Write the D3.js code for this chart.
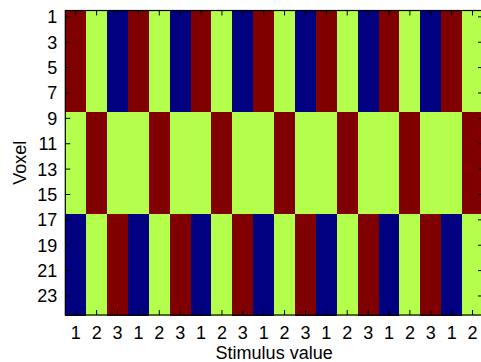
<!DOCTYPE html>
<html>
<head>
<meta charset="utf-8">
<script src="https://cdn.jsdelivr.net/npm/d3@7"></script>
<style>
  html, body { margin: 0; padding: 0; background: #fff; }
  svg { display: block; }
  text { font-family: "Liberation Sans", Arial, Helvetica, sans-serif; fill: #000; }
</style>
</head>
<body>
<svg id="chart" width="481" height="362"></svg>
<script>
// Stimulus presented on each trial (columns)
const stimulus = [1, 2, 3, 1, 2, 3, 1, 2, 3, 1, 2, 3, 1, 2, 3, 1, 2, 3, 1, 2];
// Voxel ids (rows)
const voxels = d3.range(1, 25);
// Which tuning profile each voxel follows
const voxelGroup = [0, 0, 0, 0, 0, 0, 0, 0,
                    1, 1, 1, 1, 1, 1, 1, 1,
                    2, 2, 2, 2, 2, 2, 2, 2];
// Normalised response of each tuning profile to stimulus 1, 2, 3
const tuning = [
  [1.00, 0.55, 0.00],
  [0.55, 1.00, 0.55],
  [0.00, 0.55, 1.00]
];
const yTickVoxels = [1, 3, 5, 7, 9, 11, 13, 15, 17, 19, 21, 23];

const margin = { left: 65.3, top: 10.5, right: 483, bottom: 315 };

const svg = d3.select("#chart");

const x = d3.scaleBand()
  .domain(d3.range(stimulus.length))
  .range([margin.left, margin.right])
  .paddingInner(0).paddingOuter(0);

const y = d3.scaleBand()
  .domain(voxels)
  .range([margin.top, margin.bottom])
  .paddingInner(0).paddingOuter(0);

// jet colormap
function jet(t) {
  const c = v => Math.max(0, Math.min(1, v));
  const r = c(1.5 - Math.abs(4 * t - 3));
  const g = c(1.5 - Math.abs(4 * t - 2));
  const b = c(1.5 - Math.abs(4 * t - 1));
  return d3.rgb(r * 255, g * 255, b * 255).formatHex();
}
const color = d3.scaleSequential(jet).domain([0, 1]);

const cells = [];
voxels.forEach((v, i) => {
  stimulus.forEach((s, j) => {
    cells.push({ col: j, voxel: v, value: tuning[voxelGroup[i]][s - 1] });
  });
});

svg.append("g")
  .selectAll("rect")
  .data(cells)
  .join("rect")
  .attr("x", d => x(d.col))
  .attr("y", d => y(d.voxel))
  .attr("width", x.bandwidth() + 0.5)
  .attr("height", y.bandwidth() + 0.5)
  .attr("fill", d => color(d.value))
  .attr("shape-rendering", "crispEdges");

const tickLen = 5;

// Bottom axis (ticks inside)
const bottomAxis = d3.axisBottom(x)
  .tickSize(-tickLen)
  .tickPadding(tickLen + 6)
  .tickFormat(i => stimulus[i]);
const gb = svg.append("g")
  .attr("transform", `translate(0,${margin.bottom})`)
  .call(bottomAxis);

// Top axis (ticks inside, no labels)
const gt = svg.append("g")
  .attr("transform", `translate(0,${margin.top})`)
  .call(d3.axisTop(x).tickSize(-tickLen).tickFormat(""));

// Left axis
const yCenter = v => y(v) + y.bandwidth() / 2;
const leftAxis = d3.axisLeft(y)
  .tickValues(yTickVoxels)
  .tickSize(-tickLen)
  .tickPadding(tickLen + 3);
const gl = svg.append("g")
  .attr("transform", `translate(${margin.left},0)`)
  .call(leftAxis);

// Right axis
const gr = svg.append("g")
  .attr("transform", `translate(${margin.right},0)`)
  .call(d3.axisRight(y).tickValues(yTickVoxels).tickSize(-tickLen).tickFormat(""));

[gb, gt, gl, gr].forEach(g => {
  g.select(".domain").remove();
  g.selectAll(".tick line").attr("stroke", "#000").attr("stroke-width", 1);
  g.selectAll(".tick text")
    .style("font-size", "18px")
    .style("font-family", "'Liberation Sans', Arial, sans-serif")
    .attr("fill", "#000");
});
gl.selectAll(".tick text").attr("dy", "0.36em");

// Box around the plot area
svg.append("rect")
  .attr("x", margin.left)
  .attr("y", margin.top)
  .attr("width", margin.right - margin.left)
  .attr("height", margin.bottom - margin.top)
  .attr("fill", "none")
  .attr("stroke", "#000")
  .attr("stroke-width", 1.2);

// Axis titles
svg.append("text")
  .attr("x", (margin.left + margin.right) / 2)
  .attr("y", 359)
  .attr("text-anchor", "middle")
  .style("font-size", "18px")
  .text("Stimulus value");

svg.append("text")
  .attr("transform", `translate(26,${(margin.top + margin.bottom) / 2}) rotate(-90)`)
  .attr("text-anchor", "middle")
  .style("font-size", "18px")
  .text("Voxel");
</script>
</body>
</html>
